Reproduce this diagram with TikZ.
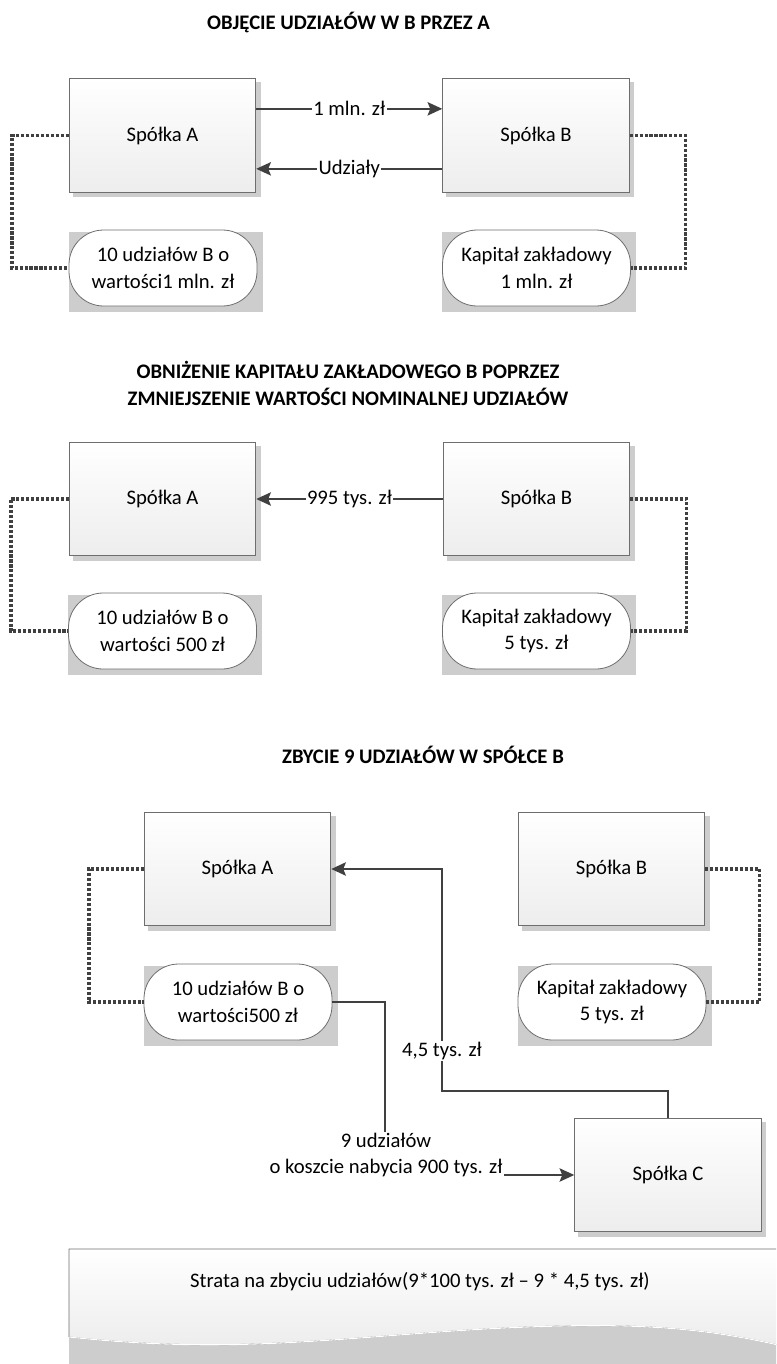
\documentclass[tikz,border=0pt]{standalone}
\usepackage{fontspec}
\setmainfont{Carlito}
\usetikzlibrary{arrows.meta,backgrounds}
\definecolor{linia}{HTML}{404040}
\definecolor{ramka}{HTML}{6E6E6E}
\definecolor{szary}{HTML}{CDCDCD}
\tikzset{
  firma/.style={rectangle,draw=ramka,line width=0.6pt,top color=white,bottom color=black!7,
    minimum width=140pt,minimum height=85pt},
  kapital/.style={rectangle,rounded corners=26pt,draw=ramka,line width=0.6pt,fill=white,
    minimum width=141pt,minimum height=57pt,align=center},
  tytul/.style={font=\fontsize{15.5}{20}\selectfont\bfseries,align=center},
  opis/.style={fill=white,inner sep=1pt,align=center},
  strzalka/.style={draw=linia,line width=1.5pt,-{Stealth[length=11pt,width=10pt,inset=2pt]}},
  kropki/.style={draw=linia,line width=2.6pt,dash pattern=on 2.4pt off 1.3pt},
  cienkaps/.style={fill=szary}
}
\begin{document}
\begin{tikzpicture}[x=0.75pt,y=-0.75pt,font=\fontsize{15.5}{20}\selectfont]
\useasboundingbox (0,0) rectangle (776,1364);
\clip (0,0) rectangle (776,1364);
% objecie udzialow
\node[tytul] (t1) at (348.5,22) {OBJĘCIE UDZIAŁÓW W B PRZEZ A};
\node[firma] (a1) at (162.5,135.5) {Spółka A};
\node[firma] (b1) at (536,135.5) {Spółka B};
\node[kapital] (ka1) at (163,268) {10 udziałów B o\\wartości1 mln. zł};
\node[kapital] (kb1) at (536.5,268) {Kapitał zakładowy\\1 mln. zł};
\draw[strzalka] ([yshift=20pt]a1.east) -- node[opis]{1 mln. zł} ([yshift=20pt]b1.west);
\draw[strzalka] ([yshift=-25pt]b1.west) -- node[opis]{Udziały} ([yshift=-25pt]a1.east);
\draw[kropki] (a1.west) -- ++(-57,0) |- (ka1.west);
\draw[kropki] (b1.east) -- ++(56,0) |- (kb1.east);
% obnizenie kapitalu
\node[tytul] (t2) at (348,383.5) {OBNIŻENIE KAPITAŁU ZAKŁADOWEGO B POPRZEZ\\ZMNIEJSZENIE WARTOŚCI NOMINALNEJ UDZIAŁÓW};
\node[firma] (a2) at (162.5,499) {Spółka A};
\node[firma] (b2) at (536.5,499) {Spółka B};
\node[kapital] (ka2) at (162.5,631) {10 udziałów B o\\wartości 500 zł};
\node[kapital] (kb2) at (536.5,631) {Kapitał zakładowy\\5 tys. zł};
\draw[strzalka] (b2.west) -- node[opis]{995 tys. zł} (a2.east);
\draw[kropki] (a2.west) -- ++(-58,0) |- (ka2.west);
\draw[kropki] (b2.east) -- ++(56,0) |- (kb2.east);
% zbycie udzialow
\node[tytul] (t3) at (423,755) {ZBYCIE 9 UDZIAŁÓW W SPÓŁCE B};
\node[firma] (a3) at (237.5,869) {Spółka A};
\node[firma] (b3) at (611.5,869) {Spółka B};
\node[kapital] (ka3) at (238,1002) {10 udziałów B o\\wartości500 zł};
\node[kapital] (kb3) at (612,1002) {Kapitał zakładowy\\5 tys. zł};
\node[firma] (c) at (668,1175) {Spółka C};
\draw[kropki] (a3.west) -- ++(-55,0) |- (ka3.west);
\draw[kropki] (b3.east) -- ++(54,0) |- (kb3.east);
\draw[strzalka] (c.north) |- (442,1091) -- node[opis,pos=0.18]{4,5 tys. zł} (442,869) -- (a3.east);
\draw[strzalka] (ka3.east) -| (385,1175) -- (c.west);
\node[opis] (l9) at (386,1155) {9 udziałów\\o koszcie nabycia 900 tys. zł};
% strata
\fill[szary] (69,1337) .. controls (260,1358) and (380,1330) .. (560,1326)
  .. controls (680,1323) and (740,1336) .. (800,1350) -- (800,1364) -- (69,1364) -- cycle;
\path[draw=ramka,line width=0.6pt,top color=white,bottom color=black!8] (69,1337) -- (69,1249) -- (800,1249) -- (800,1350)
  .. controls (740,1336) and (680,1323) .. (560,1326) .. controls (380,1330) and (260,1358) .. (69,1337);
\draw[white,line width=0.8pt] (69,1337) .. controls (260,1358) and (380,1330) .. (560,1326)
  .. controls (680,1323) and (740,1336) .. (800,1350);
\node (strata) at (420,1282) {Strata na zbyciu udziałów(9*100 tys. zł – 9 * 4,5 tys. zł)};
% cienie
\begin{scope}[on background layer]
\foreach \k in {a1,b1,a2,b2,a3,b3,c}
  \fill[cienkaps] ([xshift=3pt,yshift=-3pt]\k.north west) rectangle ([xshift=3.5pt,yshift=-3.5pt]\k.south east);
\foreach \k in {ka1,kb1,ka2,kb2,ka3,kb3}
  \fill[cienkaps] ([yshift=-1.5pt]\k.west |- \k.north) rectangle ([xshift=4pt,yshift=-4pt]\k.east |- \k.south);
\end{scope}
\end{tikzpicture}
\end{document}
